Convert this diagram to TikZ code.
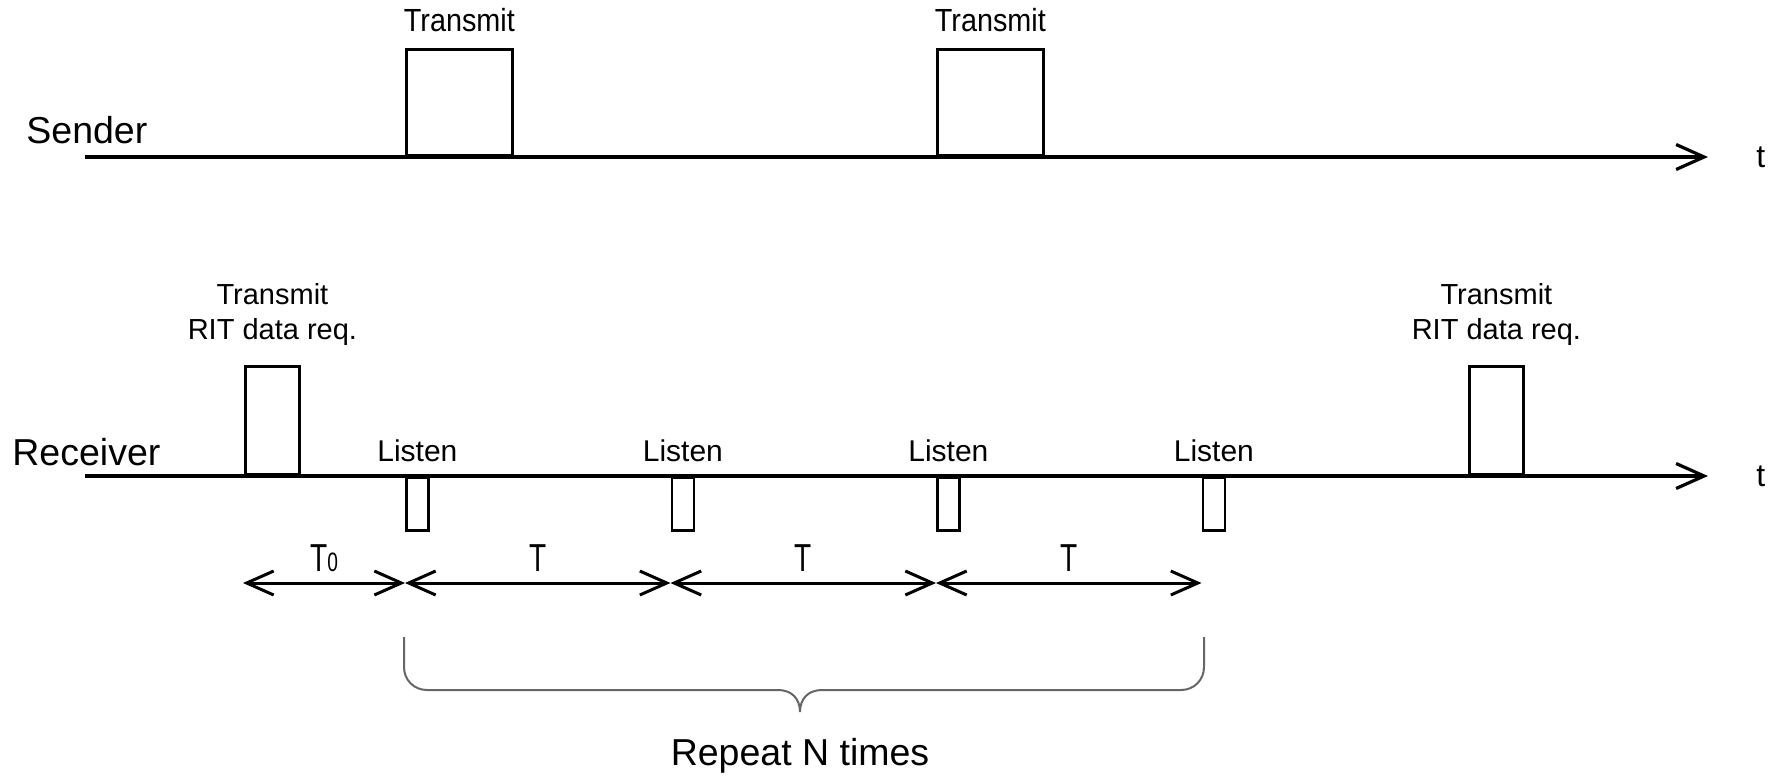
\documentclass[tikz,border=0pt]{standalone}
\usepackage{fontspec}
\setmainfont{Liberation Sans}
\newfontfamily\narrowfont{Liberation Sans}[FakeStretch=0.9]
\newfontfamily\slimfont{Liberation Sans}[FakeStretch=0.72]
\usetikzlibrary{arrows.meta, positioning}

\begin{document}
\begin{tikzpicture}[
            x=0.5pt, y=-0.5pt,
            pulse/.style={rectangle, draw=black, line width=1.4pt, inner sep=0pt},
            axis/.style={line width=1.6pt, -{Straight Barb[length=14pt, width=12.5pt]}},
            dim/.style={line width=1.5pt, {Straight Barb[length=13.5pt, width=12pt]}-{Straight Barb[length=13.5pt, width=12pt]}},
            brace/.style={line width=1pt, draw=black!60},
            rowlabel/.style={inner sep=0pt, font=\fontsize{18.75}{22}\selectfont},
            txlabel/.style={inner sep=0pt, font=\narrowfont\fontsize{16}{19}\selectfont},
            ritlabel/.style={inner sep=0pt, align=center, font=\fontsize{14.5}{17.5}\selectfont},
            listenlabel/.style={inner sep=0pt, font=\fontsize{15}{18}\selectfont},
            period/.style={inner sep=0pt, font=\slimfont\fontsize{19.5}{22}\selectfont},
            tlabel/.style={inner sep=0pt, font=\fontsize{16}{19}\selectfont}
        ]
        \useasboundingbox (0,0) rectangle (1777,776);

        \node (snd) [rowlabel, anchor=base west] at (26,143) {Sender};
        \coordinate (s0) at (85,157);
        \coordinate (s1) at (1708,157);
        \node (tx1) [pulse, minimum width=53pt, minimum height=53pt, anchor=south west] at (405,157) {};
        \node (tx2) [pulse, minimum width=53pt, minimum height=53pt, anchor=south west] at (936,157) {};
        \node (tx1lab) [txlabel, above=8pt of tx1] {Transmit};
        \node (tx2lab) [txlabel, above=8pt of tx2] {Transmit};
        \node (ts) [tlabel, right=24pt of s1] {t};

        \node (rcv) [rowlabel, anchor=base west] at (12,465) {Receiver};
        \coordinate (r0) at (85,476);
        \coordinate (r1) at (1708,476);
        \node (rit1) [pulse, minimum width=27pt, minimum height=54pt, anchor=south west] at (244,476) {};
        \node (rit2) [pulse, minimum width=27pt, minimum height=54pt, anchor=south west] at (1468,476) {};
        \node (rit1lab) [ritlabel, above=9.5pt of rit1] {Transmit\\RIT data req.};
        \node (rit2lab) [ritlabel, above=9.5pt of rit2] {Transmit\\RIT data req.};
        \node (ls1) [pulse, minimum width=11pt, minimum height=26.5pt, anchor=north west] at (405,476) {};
        \node (ls2) [pulse, minimum width=11pt, minimum height=26.5pt, anchor=north west] at (670.5,476) {};
        \node (ls3) [pulse, minimum width=11pt, minimum height=26.5pt, anchor=north west] at (936,476) {};
        \node (ls4) [pulse, minimum width=11pt, minimum height=26.5pt, anchor=north west] at (1201.5,476) {};
        \node (ls1lab) [listenlabel, above=7pt of ls1] {Listen};
        \node (ls2lab) [listenlabel, above=7pt of ls2] {Listen};
        \node (ls3lab) [listenlabel, above=7pt of ls3] {Listen};
        \node (ls4lab) [listenlabel, above=7pt of ls4] {Listen};
        \node (tr) [tlabel, right=24pt of r1] {t};

        \coordinate (d0) at (243,583);
        \coordinate (d1) at (ls1.west |- d0);
        \coordinate (d2) at (ls2.west |- d0);
        \coordinate (d3) at (ls3.west |- d0);
        \coordinate (d4) at (ls4.west |- d0);

        \coordinate (b1) at (404,637);
        \coordinate (b2) at (1204,637);
        \coordinate (bt) at (800,712);
        \node (rep) [rowlabel, below=13pt of bt] {Repeat N times};

        \draw [axis] (s0) -- (s1);
        \draw [axis] (r0) -- (r1);
        \draw [dim] (d0) -- node[period, above=5pt] {T{\fontsize{13.3}{14}\selectfont 0}} (d1);
        \draw [dim] (d1) -- node[period, above=5pt] {T} (d2);
        \draw [dim] (d2) -- node[period, above=5pt] {T} (d3);
        \draw [dim] (d3) -- node[period, above=5pt] {T} (d4);
        \draw [brace] (b1) -- (404,667) .. controls (404,680) and (414,690) .. (427,690) -- (778,690)
            .. controls (791,690) and (800,698) .. (bt) .. controls (800,698) and (809,690) .. (822,690)
            -- (1181,690) .. controls (1194,690) and (1204,680) .. (1204,667) -- (b2);
        \end{tikzpicture}
\end{document}
